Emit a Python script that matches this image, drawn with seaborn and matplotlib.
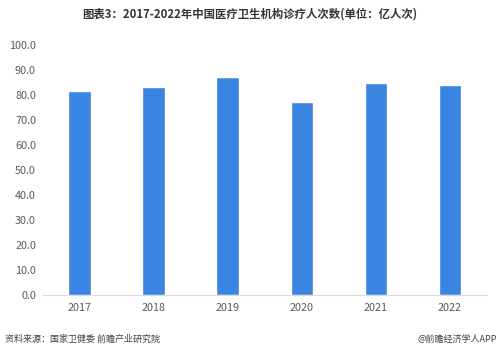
import matplotlib
matplotlib.use("Agg")
import matplotlib.pyplot as plt
import seaborn as sns
import pandas as pd

years = ["2017", "2018", "2019", "2020", "2021", "2022"]
visits = [81.8, 83.1, 87.2, 77.4, 84.7, 84.2]
yticks = [0, 10, 20, 30, 40, 50, 60, 70, 80, 90, 100]

sns.set_theme(style="white")
plt.rcParams['font.family'] = ['Noto Sans CJK SC', 'DejaVu Sans']

df = pd.DataFrame({"year": years, "value": visits})

fig = plt.figure(figsize=(4.99, 3.52), dpi=100)
ax = fig.add_axes([0.086, 0.162, 0.89, 0.71])
sns.barplot(data=df, x="year", y="value", color="#3a84e2", width=0.31,
            saturation=1, ax=ax)
ax.set_ylim(0, 100)
ax.set_yticks(yticks)
ax.set_yticklabels([f"{v:.1f}" for v in yticks], fontsize=7.8, color="#595959")
ax.tick_params(axis='x', labelsize=7.8, labelcolor="#595959", length=0, pad=6)
ax.tick_params(axis='y', length=0, pad=5)
ax.set_xlabel("")
ax.set_ylabel("")
for s in ["top", "right", "left"]:
    ax.spines[s].set_visible(False)
ax.spines["bottom"].set_color("#d9d9d9")
ax.spines["bottom"].set_linewidth(0.8)

fig.text(0.5, 0.96, "图表3：2017-2022年中国医疗卫生机构诊疗人次数(单位：亿人次)",
         ha="center", va="center", fontsize=8.2, fontweight="bold", color="#333333")
fig.text(0.01, 0.035, "资料来源：国家卫健委 前瞻产业研究院", ha="left", va="center",
         fontsize=6.5, color="#404040")
fig.text(0.995, 0.035, "@前瞻经济学人APP", ha="right", va="center",
         fontsize=6.5, color="#404040")

fig.savefig("out.png", dpi=100)
